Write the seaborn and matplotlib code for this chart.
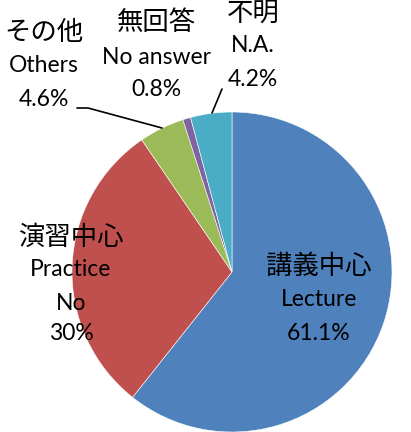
import numpy as np
import matplotlib
matplotlib.use("Agg")
import matplotlib.pyplot as plt
import seaborn as sns

# 回答の内訳（円グラフ）
labels_jp = ["講義中心", "演習中心", "その他", "無回答", "不明"]
labels_en = ["Lecture", "Practice\nNo", "Others", "No answer", "N.A."]
shares = [61.1, 30.0, 4.6, 0.8, 4.2]
share_text = ["61.1%", "30%", "4.6%", "0.8%", "4.2%"]
colors = ["#4F81BD", "#C0504D", "#9BBB59", "#8064A2", "#4BACC6"]

sns.set_theme(style="white")
plt.rcParams["font.family"] = ["Noto Sans CJK JP", "DejaVu Sans"]
plt.rcParams["text.color"] = "black"

W, H = 411, 432
fig = plt.figure(figsize=(W / 100, H / 100), dpi=100)
ax = fig.add_axes([0, 0, 1, 1])

# pie in pixel coordinates (y measured from bottom)
cx, cy, r = 232, H - 272, 160
ax.pie(shares, colors=colors, startangle=90, counterclock=False,
       center=(cx, cy), radius=r, frame=True,
       wedgeprops=dict(linewidth=0.4, edgecolor="white"))
ax.set_xlim(0, W)
ax.set_ylim(0, H)
ax.set_aspect("equal")
ax.axis("off")

jp_fs = 19
en_font = dict(family=["Lato", "DejaVu Sans"], size=16.5, color="black")

def put_label(x, ys, jp, en_lines, pct):
    ax.text(x, H - ys[0], jp, ha="center", va="center", fontsize=jp_fs, color="black")
    for yy, t in zip(ys[1:], en_lines + [pct]):
        ax.text(x, H - yy, t, ha="center", va="center", **en_font)

put_label(319, [266, 300, 333], labels_jp[0], [labels_en[0]], share_text[0])
put_label(71, [237, 270, 303, 334], labels_jp[1], labels_en[1].split("\n"), share_text[1])
put_label(44, [33, 66, 99], labels_jp[2], [labels_en[2]], share_text[2])
put_label(156, [22, 57, 89], labels_jp[3], [labels_en[3]], share_text[3])
put_label(253, [13, 46, 80], labels_jp[4], [labels_en[4]], share_text[4])

# leader lines
ax.plot([77, 88, 162], [H - 108, H - 108, H - 128], color="black", lw=1.2)
ax.plot([222, 212], [H - 89, H - 113], color="black", lw=1.2)

fig.savefig("out.png", dpi=100)
